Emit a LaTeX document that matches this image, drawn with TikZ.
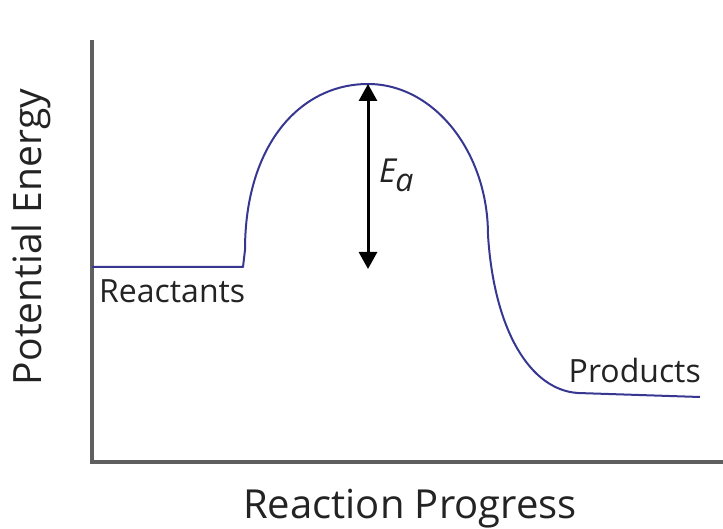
\documentclass[tikz,border=0pt]{standalone}
\usepackage{fontspec}
\setmainfont{Open Sans}
\usetikzlibrary{arrows.meta}
\definecolor{curveblue}{RGB}{55,55,145}
\definecolor{axisgray}{RGB}{95,95,95}
\definecolor{txt}{RGB}{35,35,35}
\tikzset{
  axisline/.style={draw=axisgray, line width=3.2pt},
  energycurve/.style={draw=curveblue, line width=2pt, line join=round},
  label/.style={text=txt, inner sep=0pt},
  eaarrow/.style={draw=black, line width=3pt, {Triangle[width=18pt,length=17pt]}-{Triangle[width=18pt,length=17pt]}}
}
\begin{document}
\begin{tikzpicture}[x=1pt,y=-1pt]
\useasboundingbox (0,0) rectangle (723,529);
% axes
\coordinate (ytop) at (92,40);
\coordinate (origin) at (92,462);
\coordinate (xend) at (723,462);
\draw[axisline] (ytop) -- (origin) -- (xend);
% energy curve
\coordinate (r0) at (92,267);
\coordinate (r1) at (243,267);
\coordinate (peak) at (368,84);
\coordinate (p0) at (578,393);
\coordinate (p1) at (700,397);
\draw[energycurve] (r0) -- (r1) -- (245,250)
  .. controls (245,145) and (300,84) .. (peak)
  .. controls (434,84) and (488,152) .. (488,235)
  .. controls (494,330) and (530,390) .. (p0) -- (p1);
% activation energy arrow
\coordinate (atop) at (368,84);
\coordinate (abot) at (368,269);
\draw[eaarrow] (atop) -- (abot);
\node[label, anchor=base west, font=\fontsize{33}{33}\selectfont] (ea) at (379,183) {\itshape E\kern-1pt\raisebox{-9pt}{\fontsize{32}{32}\selectfont a}};
% labels
\node[label, anchor=base west, font=\fontsize{32}{32}\selectfont] (react) at (99,303) {Reactants};
\node[label, anchor=base east, font=\fontsize{32}{32}\selectfont] (prod) at (701,382) {Products};
\node[label, anchor=base, font=\fontsize{40}{40}\selectfont] (xlab) at (410,518) {Reaction Progress};
\node[label, anchor=base, rotate=90, font=\fontsize{39}{39}\selectfont] (ylab) at (41,237) {Potential Energy};
\end{tikzpicture}
\end{document}
